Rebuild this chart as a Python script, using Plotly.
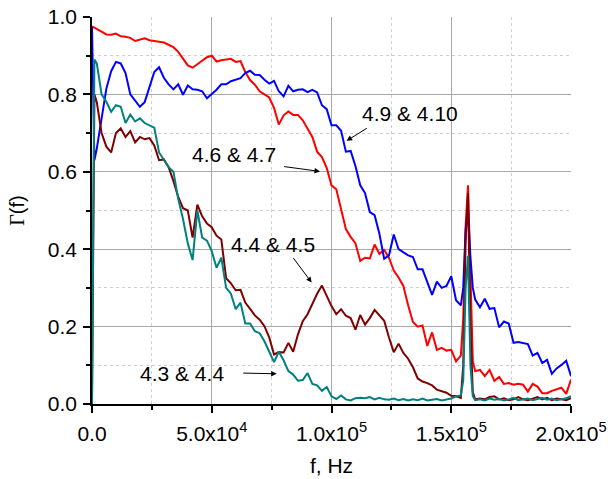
import plotly.graph_objects as go

# frequency grid in kHz
freq_khz = [0, 1, 2, 4, 6, 8, 10, 12, 14, 16,
            18, 20, 22, 24, 26, 28, 30, 32, 34, 36,
            38, 40, 42, 44, 46, 48, 50, 52, 54, 56,
            58, 60, 62, 64, 66, 68, 70, 72, 74, 76,
            78, 80, 82, 84, 86, 88, 90, 92, 94, 96,
            98, 100, 102, 104, 106, 108, 110, 112, 114, 116,
            118, 120, 122, 124, 126, 128, 130, 132, 134, 136,
            138, 140, 142, 144, 146, 148, 150, 152, 154, 155,
            156, 157, 158, 159, 160, 162, 164, 166, 168, 170,
            172, 174, 176, 178, 180, 182, 184, 186, 188, 190,
            192, 194, 196, 198, 200]

red_46_47 = [0.976, 0.972, 0.968, 0.962, 0.955, 0.954, 0.957, 0.950, 0.949, 0.946,
             0.938, 0.942, 0.945, 0.940, 0.937, 0.936, 0.934, 0.929, 0.922, 0.910,
             0.892, 0.875, 0.869, 0.878, 0.888, 0.896, 0.900, 0.885, 0.888, 0.890,
             0.892, 0.884, 0.886, 0.858, 0.837, 0.825, 0.808, 0.800, 0.792, 0.765,
             0.722, 0.746, 0.756, 0.747, 0.747, 0.733, 0.712, 0.690, 0.652, 0.638,
             0.610, 0.565, 0.555, 0.505, 0.452, 0.432, 0.415, 0.370, 0.378, 0.376,
             0.412, 0.388, 0.398, 0.378, 0.345, 0.327, 0.305, 0.255, 0.212, 0.200,
             0.203, 0.150, 0.185, 0.140, 0.145, 0.138, 0.140, 0.110, 0.125, 0.220,
             0.460, 0.565, 0.300, 0.110, 0.085, 0.088, 0.072, 0.088, 0.060, 0.070,
             0.052, 0.054, 0.050, 0.052, 0.050, 0.032, 0.052, 0.045, 0.028, 0.028,
             0.034, 0.037, 0.042, 0.026, 0.063]

blue_49_410 = [0.975, 0.630, 0.660, 0.735, 0.815, 0.860, 0.884, 0.880, 0.855, 0.800,
               0.785, 0.768, 0.780, 0.820, 0.858, 0.870, 0.843, 0.826, 0.813, 0.826,
               0.799, 0.823, 0.813, 0.812, 0.808, 0.790, 0.800, 0.812, 0.826, 0.826,
               0.834, 0.837, 0.842, 0.855, 0.861, 0.851, 0.850, 0.838, 0.828, 0.835,
               0.808, 0.795, 0.822, 0.808, 0.812, 0.813, 0.806, 0.812, 0.805, 0.772,
               0.762, 0.720, 0.720, 0.706, 0.652, 0.654, 0.615, 0.565, 0.545, 0.496,
               0.488, 0.440, 0.375, 0.384, 0.438, 0.400, 0.392, 0.384, 0.380, 0.348,
               0.348, 0.315, 0.282, 0.316, 0.300, 0.305, 0.330, 0.268, 0.255, 0.300,
               0.450, 0.500, 0.380, 0.300, 0.270, 0.250, 0.272, 0.246, 0.248, 0.198,
               0.213, 0.208, 0.158, 0.160, 0.158, 0.155, 0.125, 0.132, 0.106, 0.114,
               0.078, 0.092, 0.101, 0.112, 0.072]

darkred_44_45 = [0.000, 0.800, 0.780, 0.700, 0.665, 0.650, 0.700, 0.712, 0.690, 0.705,
                 0.676, 0.690, 0.684, 0.687, 0.668, 0.630, 0.632, 0.612, 0.576, 0.535,
                 0.506, 0.500, 0.430, 0.515, 0.485, 0.466, 0.457, 0.435, 0.425, 0.325,
                 0.312, 0.294, 0.295, 0.262, 0.246, 0.229, 0.218, 0.201, 0.172, 0.128,
                 0.134, 0.133, 0.158, 0.135, 0.180, 0.214, 0.232, 0.260, 0.285, 0.306,
                 0.278, 0.253, 0.232, 0.245, 0.228, 0.222, 0.192, 0.230, 0.205, 0.222,
                 0.243, 0.228, 0.215, 0.172, 0.134, 0.156, 0.132, 0.117, 0.095, 0.066,
                 0.058, 0.054, 0.048, 0.037, 0.032, 0.029, 0.021, 0.020, 0.016, 0.100,
                 0.420, 0.545, 0.200, 0.030, 0.012, 0.014, 0.012, 0.018, 0.020, 0.012,
                 0.015, 0.010, 0.012, 0.018, 0.012, 0.010, 0.014, 0.018, 0.012, 0.016,
                 0.010, 0.014, 0.012, 0.010, 0.015]

teal_43_44 = [0.000, 0.890, 0.880, 0.800, 0.781, 0.755, 0.772, 0.768, 0.726, 0.748,
              0.730, 0.738, 0.726, 0.720, 0.714, 0.650, 0.632, 0.612, 0.600, 0.530,
              0.478, 0.415, 0.372, 0.500, 0.430, 0.422, 0.395, 0.352, 0.378, 0.300,
              0.285, 0.245, 0.262, 0.208, 0.208, 0.188, 0.183, 0.162, 0.135, 0.108,
              0.135, 0.113, 0.085, 0.076, 0.060, 0.062, 0.080, 0.052, 0.048, 0.034,
              0.044, 0.020, 0.013, 0.022, 0.012, 0.009, 0.015, 0.016, 0.015, 0.018,
              0.012, 0.016, 0.012, 0.011, 0.014, 0.010, 0.013, 0.009, 0.012, 0.010,
              0.014, 0.009, 0.011, 0.013, 0.009, 0.011, 0.014, 0.020, 0.022, 0.060,
              0.300, 0.383, 0.100, 0.020, 0.010, 0.012, 0.009, 0.014, 0.011, 0.013,
              0.009, 0.012, 0.016, 0.010, 0.012, 0.014, 0.010, 0.013, 0.016, 0.011,
              0.014, 0.010, 0.012, 0.015, 0.020]

x_tick_vals = [0, 50000, 100000, 150000, 200000]
x_tick_text = ["0.0", "5.0x10<sup>4</sup>", "1.0x10<sup>5</sup>",
               "1.5x10<sup>5</sup>", "2.0x10<sup>5</sup>"]
x_minor_vals = [25000, 75000, 125000, 175000]
y_tick_vals = [0.0, 0.2, 0.4, 0.6, 0.8, 1.0]
y_tick_text = ["0.0", "0.2", "0.4", "0.6", "0.8", "1.0"]
y_minor_vals = [0.1, 0.3, 0.5, 0.7, 0.9]

freq_hz = [f * 1000 for f in freq_khz]

# (values, colour, name, x axis, y axis)
series = [
    (red_46_47, "#ff0000", "4.6 & 4.7", "x", "y"),
    (blue_49_410, "#0000ff", "4.9 & 4.10", "x", "y"),
    (darkred_44_45, "#800000", "4.4 & 4.5", "x2", "y2"),
    (teal_43_44, "#008080", "4.3 & 4.4", "x2", "y2"),
]

fig = go.Figure()
for vals, col, name, xa, ya in series:
    fig.add_trace(go.Scatter(x=freq_hz, y=vals, mode="lines", name=name,
                             xaxis=xa, yaxis=ya,
                             line=dict(color=col, width=2)))

FONT = "Liberation Sans, Arial, Helvetica, sans-serif"
major_grid = "#a8a8a8"
minor_grid = "#cfcfcf"

fig.update_layout(
    width=613, height=479,
    margin=dict(l=92, r=42, t=17, b=75),
    plot_bgcolor="white", paper_bgcolor="white",
    showlegend=False,
    font=dict(family=FONT, size=21, color="black"),
    # grid-only axes
    xaxis=dict(range=[0, 200000], tickvals=x_tick_vals[1:-1], showticklabels=False,
               ticks="", showgrid=True, gridcolor=major_grid, gridwidth=1,
               zeroline=False, showline=False, automargin=False,
               minor=dict(tickvals=x_minor_vals, showgrid=True, gridcolor=minor_grid,
                          griddash="dot", gridwidth=1, ticks="")),
    yaxis=dict(range=[0, 1], tickvals=y_tick_vals[1:-1], showticklabels=False,
               ticks="", showgrid=True, gridcolor=major_grid, gridwidth=1,
               zeroline=False, showline=False, automargin=False,
               minor=dict(tickvals=y_minor_vals, showgrid=True, gridcolor=minor_grid,
                          griddash="dot", gridwidth=1, ticks="")),
    # axes with lines, ticks and labels
    xaxis2=dict(overlaying="x", anchor="y2", side="bottom", range=[0, 200000],
                tickvals=x_tick_vals, ticktext=x_tick_text,
                ticks="outside", ticklen=7, tickwidth=1.5, tickcolor="black",
                ticklabelstandoff=3, automargin=False,
                showline=True, linecolor="black", linewidth=1.5,
                showgrid=False, zeroline=False,
                minor=dict(tickvals=x_minor_vals, ticks="outside", ticklen=4,
                           tickwidth=1.5, tickcolor="black", showgrid=False),
                title=dict(text="f, Hz", font=dict(size=21), standoff=14)),
    yaxis2=dict(overlaying="y", anchor="x2", side="left", range=[0, 1],
                tickvals=y_tick_vals, ticktext=y_tick_text,
                ticks="outside", ticklen=7, tickwidth=1.5, tickcolor="black",
                ticklabelstandoff=2, automargin=False,
                showline=True, linecolor="black", linewidth=1.5,
                showgrid=False, zeroline=False,
                minor=dict(tickvals=y_minor_vals, ticks="outside", ticklen=4,
                           tickwidth=1.5, tickcolor="black", showgrid=False),
                title=dict(text='<span style="font-family:Liberation Serif">Γ</span>(f)',
                           font=dict(size=20), standoff=18)),
)

labels = [
    ("4.9 & 4.10", 132800, 0.750, 115400, 0.715, 106300, 0.680),
    ("4.6 & 4.7", 59300, 0.645, 79600, 0.614, 95200, 0.601),
    ("4.4 & 4.5", 75400, 0.413, 83600, 0.381, 91700, 0.314),
    ("4.3 & 4.4", 37600, 0.079, 62500, 0.080, 77100, 0.078),
]
for txt, tx, ty, ax0, ay0, hx, hy in labels:
    fig.add_annotation(x=tx, y=ty, xref="x", yref="y", text=txt, showarrow=False,
                       font=dict(size=21, family=FONT, color="black"))
    fig.add_annotation(x=hx, y=hy, xref="x", yref="y", ax=ax0, ay=ay0,
                       axref="x", ayref="y", text="", showarrow=True,
                       arrowhead=2, arrowsize=1.1, arrowwidth=1, arrowcolor="black",
                       standoff=0, startstandoff=0)

fig.write_html("out.html")
